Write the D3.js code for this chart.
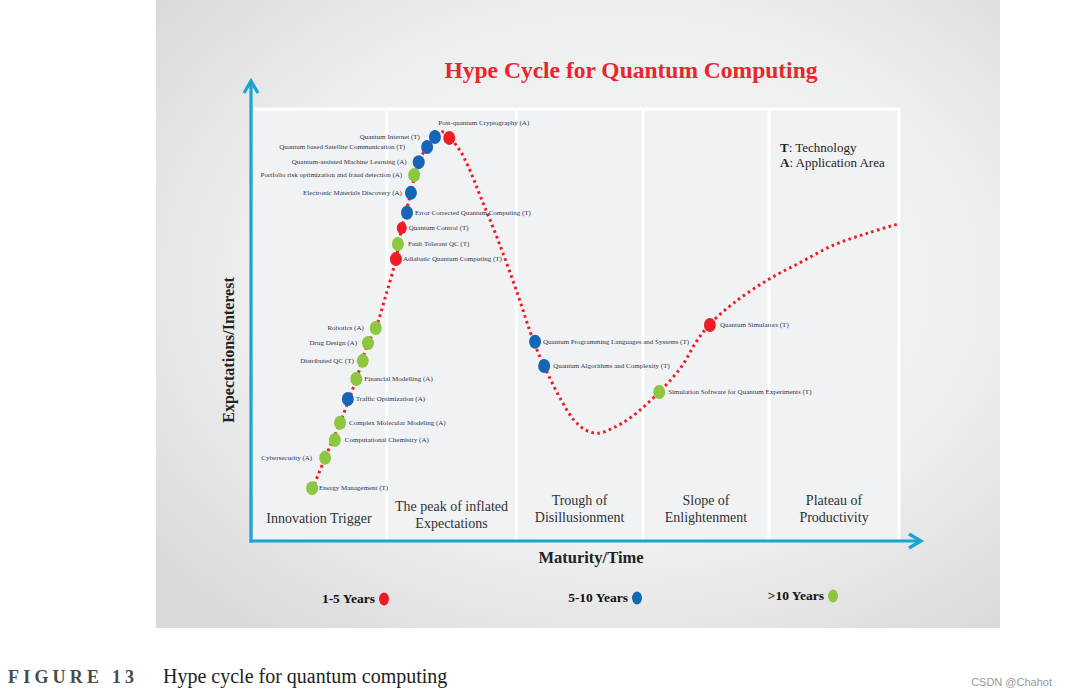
<!DOCTYPE html>
<html>
<head>
<meta charset="utf-8">
<script src="https://cdn.jsdelivr.net/npm/d3@7/dist/d3.min.js"></script>
<style>
  html, body { margin: 0; padding: 0; background: #ffffff; }
  svg { display: block; }
</style>
</head>
<body>
<svg id="chart" width="1068" height="696"></svg>
<script>
// ---------------- DATA ----------------
const techNames = [
  "Energy Management (T)", "Cybersecurity (A)", "Computational Chemistry (A)",
  "Complex Molecular Modeling (A)", "Traffic Optimization (A)", "Financial Modelling (A)",
  "Distributed QC (T)", "Drug Design (A)", "Robotics (A)",
  "Adiabatic Quantum Computing (T)", "Fault Tolerant QC (T)", "Quantum Control (T)",
  "Error Corrected Quantum Computing (T)", "Electronic Materials Discovery (A)",
  "Portfolio risk optimization and fraud detection (A)", "Quantum-assisted Machine Learning (A)",
  "Quantum based Satellite Communication (T)", "Quantum Internet (T)",
  "Post-quantum Cryptography (A)", "Quantum Programming Languages and Systems (T)",
  "Quantum Algorithms and Complexity (T)", "Simulation Software for Quantum Experiments (T)",
  "Quantum Simulators (T)"
];
// maturity (0-100) and expectation (0-100) of each item
const techMaturity = [9.4, 11.4, 12.9, 13.7, 14.9, 16.2, 17.2, 18.0, 19.2,
                      22.3, 22.6, 23.2, 24.0, 24.6, 25.1, 25.8, 27.1, 28.3,
                      30.5, 43.7, 45.1, 62.8, 70.6];
const techExpectation = [12.2, 19.2, 23.3, 27.3, 32.8, 37.4, 41.6, 45.7, 49.2,
                         65.1, 68.6, 72.3, 75.8, 80.4, 84.5, 87.5, 91.0, 93.3,
                         93.1, 46.0, 40.4, 34.4, 49.9];
// time to plateau: "1-5", "5-10", ">10"
const techHorizon = [">10", ">10", ">10", ">10", "5-10", ">10", ">10", ">10", ">10",
                     "1-5", ">10", "1-5", "5-10", "5-10", ">10", "5-10", "5-10", "5-10",
                     "1-5", "5-10", "5-10", ">10", "1-5"];

// hype curve
const curveMaturity = [9.4, 11.4, 13.7, 16.2, 18.0, 19.2, 20.8, 22.3, 23.2, 24.6, 25.8, 27.1,
                       28.3, 29.4, 30.5, 32.3, 33.8, 35.4, 38.0, 40.8, 43.5, 45.1, 47.7, 49.7,
                       51.5, 53.4, 55.7, 58.5, 62.8, 66.2, 68.5, 70.6, 74.3, 79.5, 84.6, 89.7,
                       94.9, 99.5];
const curveExpectation = [11.8, 19.2, 27.3, 37.4, 45.7, 49.2, 57.0, 65.1, 72.3, 80.4, 87.5, 91.0,
                          93.3, 94.5, 93.3, 89.8, 85.2, 79.2, 69.5, 58.0, 46.0, 40.4, 32.6, 27.9,
                          25.6, 24.9, 26.1, 28.6, 34.4, 40.2, 46.0, 50.1, 55.0, 60.3, 64.4, 68.4,
                          71.1, 73.2];

// phases
const phaseNames = [["Innovation Trigger"], ["The peak of inflated", "Expectations"],
                    ["Trough of", "Disillusionment"], ["Slope of", "Enlightenment"],
                    ["Plateau of", "Productivity"]];
const phaseEnds = [20.9, 40.8, 60.3, 79.7, 99.7];

const horizonKeys = ["1-5", "5-10", ">10"];
const horizonLabels = ["1-5 Years", "5-10 Years", ">10 Years"];

// ---------------- LAYOUT / STYLE ----------------
const labelSide = ["r","l","r","r","r","r","l","l","l","r","r","r","r","l","l","l","l","l","top","r","r","r","r"];
const labelGap  = [7,13,10,9,8,8,9,11,12,7,10,7,8,9,12,12,22,15,0,8,9,9,10];
const colors = d3.scaleOrdinal().domain(horizonKeys).range(["#ee1d25", "#1666b8", "#8dc63f"]);
const serif = "'Liberation Serif', 'Times New Roman', serif";
const axisColor = "#1aa4d0";

const svg = d3.select("#chart");
const defs = svg.append("defs");
const grad = defs.append("radialGradient").attr("id", "bg")
  .attr("cx", "55%").attr("cy", "45%").attr("r", "70%");
grad.append("stop").attr("offset", "0%").attr("stop-color", "#f4f5f6");
grad.append("stop").attr("offset", "60%").attr("stop-color", "#eeefef");
grad.append("stop").attr("offset", "100%").attr("stop-color", "#dadada");

// background panel
svg.append("rect").attr("x", 156).attr("y", 0).attr("width", 844).attr("height", 628)
  .attr("fill", "url(#bg)");

const x = d3.scaleLinear().domain([0, 100]).range([251, 901]);
const y = d3.scaleLinear().domain([0, 100]).range([541, 108]);

// plot panel
svg.append("rect").attr("x", x(0) + 2).attr("y", y(100) + 1)
  .attr("width", x(phaseEnds[4]) - x(0) - 2).attr("height", y(0) - y(100) - 1)
  .attr("fill", "#f1f2f4");
svg.append("line").attr("x1", x(0) + 2).attr("x2", x(phaseEnds[4]) + 1)
  .attr("y1", y(100) + 1).attr("y2", y(100) + 1)
  .attr("stroke", "#ffffff").attr("stroke-width", 3);
svg.selectAll("line.sep").data(phaseEnds).join("line").attr("class", "sep")
  .attr("x1", d => x(d)).attr("x2", d => x(d))
  .attr("y1", y(100)).attr("y2", y(0))
  .attr("stroke", "#ffffff").attr("stroke-width", 3);

// phase labels
const phaseStarts = [0].concat(phaseEnds.slice(0, 4));
phaseNames.forEach((lines, i) => {
  const cx = (x(phaseStarts[i]) + x(phaseEnds[i])) / 2;
  const baseY = lines.length === 1 ? 523 : (i === 1 ? 511 : 505);
  const t = svg.append("text").attr("x", cx).attr("y", baseY)
    .attr("text-anchor", "middle").attr("font-family", serif)
    .attr("font-size", 14).attr("fill", "#2f3136");
  lines.forEach((l, j) => t.append("tspan").attr("x", cx).attr("dy", j === 0 ? 0 : 16.5).text(l));
});

// axes
svg.append("line").attr("x1", x(0)).attr("x2", x(0)).attr("y1", y(0) + 1.5).attr("y2", 81)
  .attr("stroke", axisColor).attr("stroke-width", 3.2);
svg.append("path").attr("d", `M${x(0) - 7},${93} L${x(0)},${81} L${x(0) + 7},${93}`)
  .attr("fill", "none").attr("stroke", axisColor).attr("stroke-width", 3.2);
svg.append("line").attr("x1", x(0) - 1.5).attr("x2", 920).attr("y1", y(0)).attr("y2", y(0))
  .attr("stroke", axisColor).attr("stroke-width", 3.2);
svg.append("path").attr("d", `M${909},${y(0) - 7} L${921},${y(0)} L${909},${y(0) + 7}`)
  .attr("fill", "none").attr("stroke", axisColor).attr("stroke-width", 3.2);

// title
svg.append("text").attr("x", 631).attr("y", 78).attr("text-anchor", "middle")
  .attr("font-family", serif).attr("font-weight", "bold").attr("font-size", 23.5)
  .attr("fill", "#e8262d").text("Hype Cycle for Quantum Computing");

// axis titles
svg.append("text").attr("transform", `translate(234,350) rotate(-90)`)
  .attr("text-anchor", "middle").attr("font-family", serif).attr("font-weight", "bold")
  .attr("font-size", 16).attr("fill", "#222").text("Expectations/Interest");
svg.append("text").attr("x", 591).attr("y", 563).attr("text-anchor", "middle")
  .attr("font-family", serif).attr("font-weight", "bold").attr("font-size", 16.5)
  .attr("fill", "#222").text("Maturity/Time");

// T / A legend
const ta = svg.append("text").attr("x", 780).attr("y", 152).attr("font-family", serif)
  .attr("font-size", 13).attr("fill", "#222");
ta.append("tspan").attr("font-weight", "bold").text("T");
ta.append("tspan").text(": Technology");
const ta2 = svg.append("text").attr("x", 780).attr("y", 167).attr("font-family", serif)
  .attr("font-size", 13).attr("fill", "#222");
ta2.append("tspan").attr("font-weight", "bold").text("A");
ta2.append("tspan").text(": Application Area");

// hype curve
const pts = curveMaturity.map((m, i) => [m, curveExpectation[i]]);
const line = d3.line().x(d => x(d[0])).y(d => y(d[1])).curve(d3.curveCatmullRom.alpha(0.5));
svg.append("path").attr("d", line(pts)).attr("fill", "none")
  .attr("stroke", "#ee1d25").attr("stroke-width", 3)
  .attr("stroke-dasharray", "2.6,3.4");

// dots
const items = techNames.map((n, i) => ({
  name: n, m: techMaturity[i], e: techExpectation[i], h: techHorizon[i],
  side: labelSide[i], gap: labelGap[i]
}));
svg.selectAll("ellipse.dot").data(items).join("ellipse").attr("class", "dot")
  .attr("cx", d => x(d.m)).attr("cy", d => y(d.e))
  .attr("rx", d => d.name === "Quantum Control (T)" ? 5 : 6)
  .attr("ry", d => d.name === "Quantum Control (T)" ? 6 : 7)
  .attr("fill", d => colors(d.h));

svg.selectAll("text.lbl").data(items).join("text").attr("class", "lbl")
  .attr("x", d => d.side === "l" ? x(d.m) - d.gap : (d.side === "top" ? x(d.m) - 11 : x(d.m) + d.gap))
  .attr("y", d => d.side === "top" ? y(d.e) - 15 : y(d.e))
  .attr("dy", "0.33em")
  .attr("text-anchor", d => d.side === "l" ? "end" : "start")
  .attr("font-family", serif).attr("font-size", 7).attr("fill", "#2e3450")
  .text(d => d.name);

// horizon legend
const legX = [375, 628, 824];
const legY = [598, 597, 595];
horizonKeys.forEach((k, i) => {
  svg.append("text").attr("x", legX[i]).attr("y", legY[i] + 4.5).attr("text-anchor", "end")
    .attr("font-family", serif).attr("font-weight", "bold").attr("font-size", 13.5)
    .attr("fill", "#111").text(horizonLabels[i]);
  svg.append("ellipse").attr("cx", legX[i] + 9).attr("cy", legY[i] + 1).attr("rx", 5).attr("ry", 6.5)
    .attr("fill", colors(k));
});

// caption
const cap = svg.append("text").attr("x", 8).attr("y", 683).attr("font-family", serif)
  .attr("font-size", 18).attr("fill", "#222");
cap.append("tspan").attr("font-weight", "bold").attr("fill", "#4a4a4a")
  .attr("letter-spacing", "4.2px").text("FIGURE 13");
svg.append("text").attr("x", 163).attr("y", 683).attr("font-family", serif)
  .attr("font-size", 20).attr("fill", "#222").text("Hype cycle for quantum computing");
svg.append("text").attr("x", 1052).attr("y", 686).attr("text-anchor", "end")
  .attr("font-family", "'Liberation Sans', Arial, sans-serif").attr("font-size", 11)
  .attr("fill", "#999").text("CSDN @Chahot");
</script>
</body>
</html>
